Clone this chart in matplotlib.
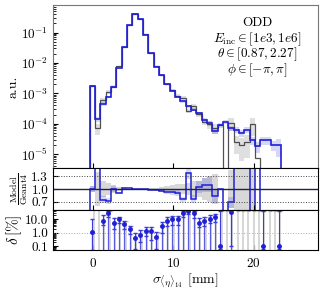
import matplotlib
matplotlib.use("Agg")
import matplotlib.pyplot as plt
import numpy as np

plt.rcParams['font.family'] = 'serif'
plt.rcParams['font.serif'] = ['cmr10', 'DejaVu Serif']
plt.rcParams['mathtext.fontset'] = 'cm'
plt.rcParams['axes.formatter.use_mathtext'] = True
plt.rcParams['font.size'] = 8

# bin edges of sigma_<eta>_14 [mm]
edges = np.linspace(-0.45, 23.45, 37)

# normalised histograms (a.u.)
model = [1.7e-3, 1.4e-4, 4.5e-4, 7.6e-4, 1.65e-3, 7.0e-3, 3.4e-2, 0.18, 0.42, 0.27,
         0.086, 0.021, 7.6e-3, 3.9e-3, 1.95e-3, 1.2e-3, 7.6e-4, 5.4e-4, 3.7e-4, 2.9e-4,
         2.2e-4, 1.3e-4, 1.05e-4, 5.9e-5, 9.1e-5, 1.17e-4, 7.0e-5, 6.3e-5, 4.9e-5, 6.3e-5,
         2.9e-5, 1.8e-5, 2.9e-5, 2.9e-5, 2.0e-5, 2.0e-5]
geant4 = [1.7e-3, 7.0e-5, 6.0e-4, 1.08e-3, 1.65e-3, 7.8e-3, 3.33e-2, 0.176, 0.42, 0.27,
          0.087, 0.0214, 7.8e-3, 4.1e-3, 2.1e-3, 1.3e-3, 8.4e-4, 7.1e-4, 2.7e-4, 3.8e-4,
          2.1e-4, 1.18e-4, 9.5e-5, 7.0e-5, 9.1e-5, 0.0, 1.03e-4, 2.5e-5, 2.0e-5, 2.5e-5,
          9.7e-5, 7.2e-6, 0.0, 0.0, 0.0, 0.0]
# relative statistical uncertainties
rel_g4 = [0.08, 0.4, 0.2, 0.15, 0.1, 0.05, 0.02, 0.01, 0.01, 0.01,
          0.01, 0.02, 0.03, 0.05, 0.07, 0.09, 0.11, 0.13, 0.15, 0.18,
          0.2, 0.25, 0.3, 0.35, 0.35, 0.0, 0.45, 0.6, 0.7, 0.7,
          0.6, 0.9, 0.0, 0.0, 0.0, 0.0]
rel_model = [0.08, 0.2, 0.12, 0.1, 0.07, 0.03, 0.015, 0.01, 0.01, 0.01,
             0.01, 0.015, 0.02, 0.03, 0.05, 0.06, 0.07, 0.08, 0.1, 0.12,
             0.13, 0.15, 0.17, 0.2, 0.18, 0.15, 0.2, 0.22, 0.25, 0.22,
             0.3, 0.4, 0.3, 0.3, 0.35, 0.6]

# delta [%] per bin (model), with error bar ends
delta = [1.2, np.nan, 8.0, 29, 5.7, 10, 4.5, 1.9, 0.38, 0.71,
         1.4, 1.34, 0.45, 3.2, 8.0, 10, 10, 29, 45, 29,
         5.7, 8, 11, 14, 0.1, np.nan, 38, np.nan, np.nan, np.nan,
         np.nan, np.nan, 0.1, np.nan, np.nan, 0.1]
delta_lo = [0.05, np.nan, 4, 15, 2, 5, 2, 0.8, 0.06, 0.2,
            0.6, 0.3, 0.06, 1, 3, 4, 4, 15, 25, 12,
            2.5, 3, 5, 6, 0.06, np.nan, 0.1, np.nan, np.nan, np.nan,
            np.nan, np.nan, 0.06, np.nan, np.nan, 0.06]
delta_hi = [10, np.nan, 20, 40, 12, 15, 8, 3, 1.0, 1.5,
            2.5, 2.5, 1.2, 6, 14, 18, 18, 45, 55, 45,
            12, 16, 20, 25, 40, np.nan, 50, np.nan, np.nan, np.nan,
            np.nan, np.nan, 40, np.nan, np.nan, 40]
# delta [%] of reference (grey stems)
delta_ref = [50, 50, 20, 40, 12, 15, 8, 3, 1.0, 1.5,
             2.5, 2.5, 1.2, 6, 14, 18, 18, 45, 50, 45,
             12, 16, 20, 25, 40, 40, 50, 45, 45, 40,
             45, 45, 40, 40, 40, 40]

model = np.array(model)
geant4 = np.array(geant4)
rel_g4 = np.array(rel_g4)
rel_model = np.array(rel_model)
centers = 0.5 * (edges[1:] + edges[:-1])
width = edges[1] - edges[0]

blue = '#1f1fd6'
fig = plt.figure(figsize=(3.24, 2.92), dpi=100)
ax = fig.add_axes([0.1636, 0.4247, 0.818, 0.558])
axr = fig.add_axes([0.1636, 0.2808, 0.818, 0.1439], sharex=ax)
axd = fig.add_axes([0.1636, 0.1438, 0.818, 0.137], sharex=ax)

def pad(v):
    return np.append(v, v[-1])

# main panel
g_lo = np.where(geant4 > 0, geant4 * (1 - rel_g4), np.nan)
g_hi = np.where(geant4 > 0, geant4 * (1 + rel_g4), np.nan)
ax.fill_between(edges, pad(g_lo), pad(g_hi), step='post', color='grey', alpha=0.25, lw=0)
ax.fill_between(edges, pad(model * (1 - rel_model)), pad(model * (1 + rel_model)),
                step='post', color=blue, alpha=0.18, lw=0)
ax.stairs(geant4, edges, baseline=1e-12, color='#333333', lw=0.9, alpha=0.85)
ax.stairs(model, edges, baseline=1e-12, color=blue, lw=1.2)
ax.set_yscale('log')
ax.set_ylim(3.5e-6, 0.8)
ax.set_xlim(-5, 28)
ax.set_ylabel('a.u.', labelpad=1, fontsize=10)
txt = ['ODD', r'$E_{\rm inc} \in [1e3, 1e6]$', r'$\theta \in [0.87, 2.27]$', r'$\phi \in [-\pi, \pi]$']
for i, t in enumerate(txt):
    ax.text(0.77, 0.89 - i * 0.097, t, transform=ax.transAxes, ha='center', va='center',
            fontsize=9.5)
for s in ax.spines.values():
    s.set_color('#777777')

# ratio panel
ratio = np.where(geant4 > 0, model / np.where(geant4 > 0, geant4, 1), np.nan)
axr.fill_between(edges, pad(np.where(geant4 > 0, 1 - rel_g4, np.nan)),
                 pad(np.where(geant4 > 0, 1 + rel_g4, np.nan)),
                 step='post', color='grey', alpha=0.3, lw=0)
axr.fill_between(edges, pad(ratio * (1 - rel_model)), pad(ratio * (1 + rel_model)),
                 step='post', color=blue, alpha=0.18, lw=0)
axr.axhline(1.0, color='#222244', lw=1.0)
axr.axhline(1.3, color='#444444', lw=0.7, ls=':')
axr.axhline(0.7, color='#444444', lw=0.7, ls=':')
axr.stairs(ratio, edges, color=blue, lw=1.1)
axr.set_ylim(0.5, 1.5)
axr.set_yticks([0.7, 1.0, 1.3])
axr.set_yticklabels(['0.7', '1.0', '1.3'])
axr.set_ylabel(r'$\frac{\rm Model}{\rm Geant4}$', labelpad=1, fontsize=10)

# delta panel
delta = np.array(delta)
axd.axhline(1.0, color='#aaaaaa', lw=0.7, ls=':')
axd.vlines(centers + 0.3 * width, 0.01, delta_ref, color='#d0d0d0', lw=1.2)
axd.plot(centers + 0.3 * width, delta_ref, ls='none', marker='_', color='#a8a8a8', ms=3.5,
         mew=0.8)
axd.vlines(centers, 0.01, delta, color='#5a5ae0', lw=0.9)
yerr = [delta - np.array(delta_lo), np.array(delta_hi) - delta]
axd.errorbar(centers, delta, yerr=yerr, fmt='o', color=blue, ms=2.5,
             elinewidth=0.8, capsize=1.5, ecolor='#3a3ae0')
axd.set_yscale('log')
axd.set_ylim(0.05, 50)
axd.set_yticks([0.1, 1, 10])
axd.set_yticklabels(['0.1', '1.0', '10.0'])
axd.set_ylabel(r'$\delta\,[\%]$', labelpad=1, fontsize=11)
axd.set_xticks([0, 10, 20])
axd.set_xlabel(r'$\sigma_{\langle\eta\rangle_{14}}$ [mm]', fontsize=10, labelpad=1)

for a in (ax, axr, axd):
    a.tick_params(direction='in', which='both', labelsize=9.5)
axd.tick_params(axis='x', pad=5)
plt.setp(ax.get_xticklabels(), visible=False)
plt.setp(axr.get_xticklabels(), visible=False)
fig.align_ylabels([ax, axr, axd])

fig.savefig('out.png', dpi=100)
